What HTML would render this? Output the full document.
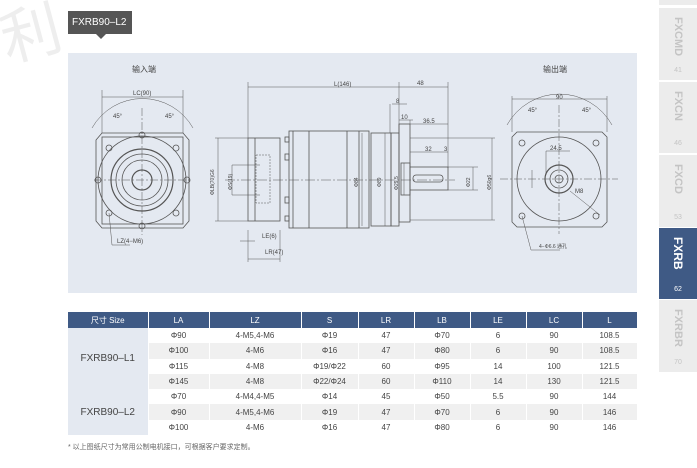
<!DOCTYPE html>
<html><head><meta charset="utf-8"><style>
body{margin:0;width:697px;height:468px;background:#fff;position:relative;overflow:hidden;font-family:"Liberation Sans","Noto Sans CJK SC",sans-serif}
.tag{position:absolute;left:68px;top:11px;width:64px;height:23px;background:#555;color:#fff;font-size:10px;line-height:23px;padding-left:4px;box-sizing:border-box}
.tag:after{content:"";position:absolute;left:28px;top:23px;border:5px solid transparent;border-top-color:#555}
.panel{position:absolute;left:68px;top:53px;width:569px;height:240px;background:#e4e9f1}
.side{position:absolute;left:659px;width:38px;background:#ececec;color:#c4c4c4;text-align:center}
.side .v{position:absolute;left:12px;top:9px;writing-mode:vertical-rl;font-weight:bold;font-size:11px;line-height:14px}
.side .n{position:absolute;left:0;width:38px;bottom:6px;font-size:7px}
.side.act{background:#3f5a85;color:#fff}
table{position:absolute;left:68px;top:312px;width:569px;border-collapse:collapse;table-layout:fixed;font-size:8px;color:#444;text-align:center}
th{background:#3f5a85;color:#fff;font-weight:normal;height:16px;border-right:1px solid #fff;padding:0}
td{height:15.3px;padding:0;border-right:1px solid #fff}
tr.g td{background:#f0f0f0}
td.s{background:#e4e9f1;font-size:10px}
.note{position:absolute;left:68px;top:442px;font-size:7px;color:#666}
</style></head><body>
<div style="position:absolute;left:0;top:0;font-size:60px;color:#eee;transform:rotate(-15deg);font-family:'Noto Sans CJK SC',sans-serif;line-height:60px">利</div>
<div class="tag">FXRB90–L2</div>
<div class="panel"></div>
<div class="side" style="top:0;height:5px"></div>
<div class="side" style="top:8px;height:72px"><div class="v">FXCMD</div><div class="n">41</div></div>
<div class="side" style="top:82px;height:71px"><div class="v">FXCN</div><div class="n">46</div></div>
<div class="side" style="top:155px;height:72px"><div class="v">FXCD</div><div class="n">53</div></div>
<div class="side act" style="top:228px;height:71px"><div class="v" style="color:#fff;font-size:12px">FXRB</div><div class="n">62</div></div>
<div class="side" style="top:300px;height:72px"><div class="v">FXRBR</div><div class="n">70</div></div>
<svg style="position:absolute;left:0;top:0" width="697" height="468" viewBox="0 0 697 468" fill="none" stroke="#555" stroke-width="0.8" font-size="6" font-family="Liberation Sans, sans-serif">
<g fill="#444" stroke="none"><text x="132" y="72" font-size="8" font-family="Noto Sans CJK SC">输入端</text><text x="543" y="72" font-size="8" font-family="Noto Sans CJK SC">输出端</text>
<text x="133" y="95">LC(90)</text><text x="334" y="86">L(146)</text><text x="417" y="85">48</text><text x="396" y="103">8</text><text x="401" y="119">10</text><text x="423" y="123">36.5</text><text x="425" y="151">32</text><text x="444" y="151">3</text>
<text x="262" y="238">LE(6)</text><text x="265" y="254">LR(47)</text><text x="117" y="243">LZ(4−M6)</text><text x="556" y="99">90</text><text x="550" y="150">24.5</text><text x="575" y="193">M8</text><text x="539" y="248" font-size="5">4−Φ6.6 通孔</text>
<text x="113" y="118">45°</text><text x="165" y="118">45°</text><text x="528" y="112">45°</text><text x="582" y="112">45°</text></g>
<g fill="#444" stroke="none" font-size="5">
<text transform="translate(214,195) rotate(-90)">ΦLB(70)G6</text><text transform="translate(232,190) rotate(-90)">ΦS(19)</text>
<text transform="translate(358,187) rotate(-90)">Φ84</text><text transform="translate(381,187) rotate(-90)">Φ89</text><text transform="translate(398,190) rotate(-90)">Φ29.5</text>
<text transform="translate(470,187) rotate(-90)">Φ22</text><text transform="translate(491,190) rotate(-90)">Φ50g6</text></g>
<g>
<path d="M102 133H183L189 140V221L183 228H102L96 221V140Z"/>
<rect x="102" y="137" width="81" height="87"/>
<circle cx="142" cy="180" r="44"/><circle cx="142" cy="180" r="31" stroke-width="1.2"/><circle cx="142" cy="180" r="26"/><circle cx="142" cy="180" r="20"/><circle cx="142" cy="180" r="10" stroke-width="1.2"/>
<circle cx="109" cy="148" r="3"/><circle cx="176" cy="148" r="3"/><circle cx="109" cy="213" r="3"/><circle cx="176" cy="213" r="3"/>
<circle cx="142" cy="135" r="3"/><circle cx="142" cy="226" r="3"/><circle cx="98" cy="180" r="3"/><circle cx="187" cy="180" r="3"/>
<path d="M94 180H192M142 108V235" stroke-dasharray="8 2 2 2" stroke-width="0.5"/>
<path d="M102 90V133M183 90V133M102 97H183" stroke-width="0.5"/>
<path d="M92 128A58 58 0 0 1 193 128" stroke-width="0.5"/>
<path d="M109 213L112 245H130" stroke-width="0.5"/>
</g>
<g>
<path d="M248 82V138M448 82V168M399 82V133M248 87H448" stroke-width="0.5"/>
<rect x="248" y="138" width="32" height="83"/><path d="M255 138V221"/>
<rect x="256" y="155" width="14" height="48" stroke-dasharray="2 1" stroke-width="0.5"/>
<rect x="289" y="131" width="80" height="97"/><path d="M293 131V228M309 131V228M347 131V228M359 131V228"/>
<rect x="285" y="137" width="4" height="5"/><rect x="285" y="154" width="4" height="6"/><rect x="285" y="197" width="4" height="6"/><rect x="285" y="216" width="4" height="5"/>
<rect x="371" y="133" width="20" height="93"/><rect x="391" y="133" width="8" height="93"/>
<rect x="399" y="124" width="11" height="98"/><rect x="401" y="163" width="9" height="32"/>
<rect x="410" y="167" width="38" height="23"/><rect x="413" y="175" width="30" height="7" rx="3"/>
<path d="M225 180H455" stroke-dasharray="10 2 2 2" stroke-width="0.5"/>
<path d="M218 138V221M248 138H215M248 221H215M232 165H260M232 195H260M232 165V195" stroke-width="0.5"/>
<path d="M248 230V262M280 230V262M248 259H280M255 241H240" stroke-width="0.5"/>
<path d="M392 104H407M390 104V133M410 120V124M399 120H413M410 124H448M410 152H448M473 167V190M448 167H478M448 190H478M492 138V220M410 138H495M410 220H495M362 133V226M385 133V226M404 163V195" stroke-width="0.5"/>
</g>
<g>
<path d="M517 132H602L607 137V222L602 227H517L512 222V137Z"/>
<circle cx="559" cy="179" r="42"/><circle cx="559" cy="179" r="14" stroke-width="1.2"/><circle cx="559" cy="179" r="9"/><circle cx="559" cy="179" r="4"/>
<circle cx="522" cy="143" r="3"/><circle cx="596" cy="143" r="3"/><circle cx="522" cy="216" r="3"/><circle cx="596" cy="216" r="3"/>
<path d="M500 179H618M559 105V234" stroke-dasharray="8 2 2 2" stroke-width="0.5"/>
<path d="M512 96V132M607 96V132M512 99H607M507 125A60 60 0 0 1 612 125M546 151H570M546 151V175M522 216L531 250H560M570 191L600 215M532 170V188" stroke-width="0.5"/>
</g>
</svg>
<table>
<colgroup><col style="width:80px"><col style="width:61px"><col style="width:92px"><col style="width:57px"><col style="width:56px"><col style="width:56px"><col style="width:56px"><col style="width:56px"><col style="width:55px"></colgroup>
<tr><th>尺寸 Size</th><th>LA</th><th>LZ</th><th>S</th><th>LR</th><th>LB</th><th>LE</th><th>LC</th><th>L</th></tr>
<tr><td class="s" rowspan="4">FXRB90–L1</td><td>Φ90</td><td>4-M5,4-M6</td><td>Φ19</td><td>47</td><td>Φ70</td><td>6</td><td>90</td><td>108.5</td></tr>
<tr class="g"><td>Φ100</td><td>4-M6</td><td>Φ16</td><td>47</td><td>Φ80</td><td>6</td><td>90</td><td>108.5</td></tr>
<tr><td>Φ115</td><td>4-M8</td><td>Φ19/Φ22</td><td>60</td><td>Φ95</td><td>14</td><td>100</td><td>121.5</td></tr>
<tr class="g"><td>Φ145</td><td>4-M8</td><td>Φ22/Φ24</td><td>60</td><td>Φ110</td><td>14</td><td>130</td><td>121.5</td></tr>
<tr><td class="s" rowspan="3">FXRB90–L2</td><td>Φ70</td><td>4-M4,4-M5</td><td>Φ14</td><td>45</td><td>Φ50</td><td>5.5</td><td>90</td><td>144</td></tr>
<tr class="g"><td>Φ90</td><td>4-M5,4-M6</td><td>Φ19</td><td>47</td><td>Φ70</td><td>6</td><td>90</td><td>146</td></tr>
<tr><td>Φ100</td><td>4-M6</td><td>Φ16</td><td>47</td><td>Φ80</td><td>6</td><td>90</td><td>146</td></tr>
</table>
<div class="note">* 以上图纸尺寸为常用公制电机接口，可根据客户要求定制。</div>
</body></html>
